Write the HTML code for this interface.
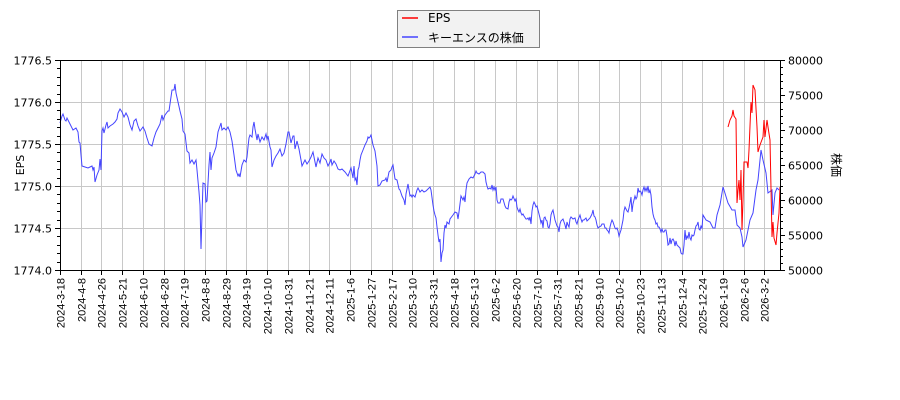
<!DOCTYPE html>
<html><head><meta charset="utf-8"><style>
body{margin:0;background:#fff;}
svg{display:block;font-family:"Liberation Sans","DejaVu Sans","Noto Sans CJK JP",sans-serif;}
</style></head><body>
<svg id="c" width="900" height="400" xmlns="http://www.w3.org/2000/svg">
<rect width="900" height="400" fill="#fff"/>
<g id="grid" stroke="#c8c8c8" stroke-width="1"></g>
<g id="ticks" stroke="#000" stroke-width="1"></g>
<g id="labels" font-size="11" fill="#000"></g>
<polyline id="blue" fill="none" stroke="#4444ff" stroke-width="1" points="60,123 62,116 63,114 65,120 66,121 67,118 70,124 73,130 76,128 78,132 79,142 80,143 81,155 82,166 85,167 88,168 90,167 92,166 93,170 94,167 95,182 97,175 99,170 100,159 101,170 102,131 103,128 104,133 106,125 107,122 108,128 110,126 113,124 115,122 117,119 118,113 120,109 122,112 124,117 126,113 128,117 130,125 132,130 134,121 136,119 138,126 140,131 143,127 145,131 147,138 149,144 152,146 154,138 156,132 158,128 160,124 162,115 163,120 165,115 168,111 169,111 172,90 174,90 175,84 176,93 178,102 180,111 182,119 183,131 185,134 187,151 189,153 190,163 192,160 194,164 196,160 197,170 199,192 200,205 201,249 202,215 203,183 205,184 206,202 207,201 209,165 210,152 211,170 212,158 214,153 216,147 218,132 220,126 221,123 222,130 224,128 226,130 228,127 230,132 232,141 234,155 236,170 238,176 239,174 240,177 242,165 244,160 246,162 247,157 248,147 249,138 250,135 252,137 253,127 254,122 255,129 257,140 258,134 260,142 262,137 264,140 266,134 267,139 268,136 270,147 271,150 272,167 274,160 276,156 278,153 280,149 282,156 284,153 286,144 288,132 289,132 291,143 293,136 294,136 295,149 296,145 297,141 299,149 301,160 302,166 305,160 307,164 309,161 311,157 313,152 315,162 316,167 318,158 320,163 322,154 324,158 326,160 328,166 330,162 331,159 332,165 334,161 336,164 338,169 340,170 342,169 345,172 348,176 351,168 353,178 354,166 355,180 356,178 357,185 358,170 359,167 360,160 361,155 363,150 365,145 367,141 368,137 369,138 370,137 371,135 373,145 375,151 377,166 378,186 380,185 382,181 385,180 386,178 387,182 389,172 391,170 392,167 393,165 395,179 397,180 399,189 400,190 402,196 404,200 405,205 406,194 408,184 409,190 410,196 411,195 412,197 413,195 415,197 417,190 418,188 420,192 422,190 424,192 426,191 428,189 430,187 431,190 433,205 434,211 435,215 436,218 437,227 438,235 439,242 440,239 441,262 442,253 443,250 444,233 445,225 446,228 447,222 449,224 450,219 453,215 455,212 457,213 458,219 459,212 461,196 463,200 464,197 465,202 466,190 467,183 469,179 471,177 473,178 475,174 476,171 477,173 479,174 481,172 483,172 485,174 486,182 487,186 488,189 490,188 491,189 492,185 493,190 494,187 495,190 496,187 497,200 498,203 499,203 500,203 501,199 503,199 505,206 506,208 508,209 509,202 510,199 511,200 512,199 513,196 515,201 516,199 517,207 518,210 519,212 520,209 521,213 522,215 523,214 524,216 526,219 527,219 528,218 529,220 530,217 531,224 532,211 533,205 534,202 535,204 536,207 537,206 538,210 539,214 540,218 541,223 542,220 543,228 544,218 545,217 546,220 547,221 548,227 549,228 550,224 551,215 552,212 553,210 554,215 555,220 556,223 557,226 558,227 559,232 560,224 561,221 563,219 565,225 566,229 567,222 568,225 569,227 570,219 571,217 573,219 575,218 576,222 577,224 578,220 580,215 581,219 582,222 583,220 584,220 586,218 587,221 588,220 590,218 591,216 592,214 593,210 594,216 595,217 596,220 597,225 598,228 599,227 601,226 602,224 604,224 605,228 606,228 607,230 608,231 609,233 610,227 611,223 612,220 613,222 614,225 615,228 616,229 617,228 618,231 619,236 620,233 621,230 622,225 623,220 624,211 625,207 626,209 627,211 628,212 629,208 630,203 631,197 632,212 633,204 634,200 635,196 636,199 637,197 638,188 639,192 640,191 641,192 642,195 643,190 644,187 645,191 646,188 647,191 648,186 649,193 650,190 651,195 652,207 653,214 654,218 655,220 656,224 657,223 658,227 659,227 660,229 661,232 662,229 663,232 664,232 665,230 666,230 667,236 668,245 669,244 670,238 671,244 672,240 673,239 674,241 675,246 676,241 677,245 678,246 679,247 680,248 681,253 682,254 683,254 684,245 685,230 686,240 687,236 688,238 689,232 690,238 691,240 692,235 693,236 694,235 695,230 696,226 697,225 698,222 699,229 700,230 701,226 702,228 703,215 706,220 710,222 713,228 715,228 717,215 720,205 723,187 724,190 728,203 732,210 735,210 737,225 740,228 742,237 743,247 746,240 750,220 753,213 756,190 758,180 761,150 763,160 766,173 768,193 772,190 773,215 775,193 777,188 779,190"/>
<polyline fill="none" stroke="#ff0000" stroke-width="1" points="728,127 730,120 732,116 733,110 734,116 736,119 737,203 738,190 739,180 740,200 741,170 742,230 743,200 744,162 747,162 748,168 749,150 751,102 752,113 753,85 755,90 757,127 758,152 760,145 763,137 764,120 765,137 767,120 768,127 770,140 772,237 773,222 774,238 776,245 777,233 779,213 780,187"/>
<rect x="60.5" y="60.5" width="720" height="210" fill="none" stroke="#000"/>
<text x="24" y="165" font-size="11" font-family="DejaVu Sans, sans-serif" transform="rotate(-90 24 165)" text-anchor="middle">EPS</text>
<text x="832" y="165" font-size="12" font-family="Noto Sans CJK JP, sans-serif" transform="rotate(90 832 165)" text-anchor="middle">株価</text>
<rect x="397.5" y="10.5" width="142" height="37" fill="#f2f2f2" stroke="#808080"/>
<line x1="402" y1="18" x2="418" y2="18" stroke="#ff0000" stroke-width="1.5"/>
<line x1="402" y1="37" x2="418" y2="37" stroke="#4444ff" stroke-width="1.5"/>
<text x="428" y="22" font-size="12" font-family="DejaVu Sans, sans-serif">EPS</text>
<text x="428" y="42" font-size="12" font-family="DejaVu Sans, Noto Sans CJK JP, sans-serif">キーエンスの株価</text>
</svg>
<script>
var ns="http://www.w3.org/2000/svg";
function el(p,t,a,txt){var e=document.createElementNS(ns,t);for(var k in a)e.setAttribute(k,a[k]);if(txt)e.textContent=txt;document.getElementById(p).appendChild(e);return e;}
var dates=["2024-3-18","2024-4-8","2024-4-26","2024-5-21","2024-6-10","2024-6-28","2024-7-19","2024-8-8","2024-8-29","2024-9-19","2024-10-10","2024-10-31","2024-11-21","2024-12-11","2025-1-6","2025-1-27","2025-2-17","2025-3-10","2025-3-31","2025-4-18","2025-5-13","2025-6-2","2025-6-20","2025-7-10","2025-7-31","2025-8-21","2025-9-10","2025-10-2","2025-10-23","2025-11-13","2025-12-4","2025-12-24","2026-1-19","2026-2-6","2026-3-2"];
for(var i=0;i<dates.length;i++){var x=Math.round(60+i*20.72)+0.5;
 el("grid","line",{x1:x,y1:60,x2:x,y2:270});
 el("ticks","line",{x1:x,y1:270,x2:x,y2:275});
 el("labels","text",{x:0,y:0,transform:"translate("+(x+4)+",278) rotate(-90)","text-anchor":"end","font-size":"11"},dates[i]);}
for(var j=0;j<=5;j++){var y=Math.round(270-j*42)+0.5;
 el("grid","line",{x1:60,y1:y,x2:780,y2:y});
 el("ticks","line",{x1:55,y1:y,x2:60,y2:y});
 el("labels","text",{x:52,y:y+4,"text-anchor":"end","font-size":"11","font-family":"DejaVu Sans, sans-serif"},(1774+j*0.5).toFixed(1));}
for(var r=0;r<=6;r++){var yr=Math.round(270-r*35)+0.5;
 el("ticks","line",{x1:780,y1:yr,x2:785,y2:yr});
 el("labels","text",{x:788,y:yr+4,"font-size":"11","font-family":"DejaVu Sans, sans-serif"},String(50000+r*5000));}
for(var k=0;k<=25;k++){var yy=Math.round(270-k*8.4)+0.5;
 el("ticks","line",{x1:57,y1:yy,x2:60,y2:yy});}
for(var m=0;m<=30;m++){var y2=Math.round(270-m*7)+0.5;el("ticks","line",{x1:780,y1:y2,x2:783,y2:y2});}
</script>
</body></html>
